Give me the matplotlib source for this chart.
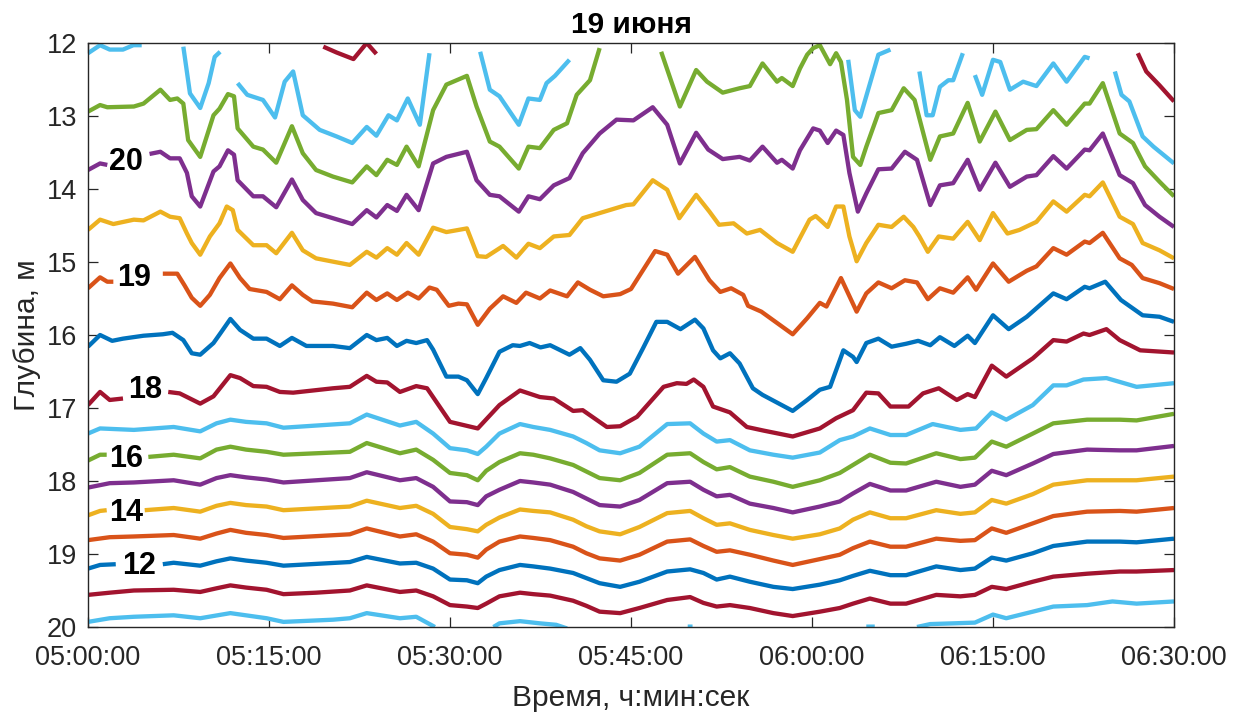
import numpy as np
import matplotlib
matplotlib.use("Agg")
import matplotlib.pyplot as plt

plt.rcParams['font.family'] = ['Liberation Sans', 'DejaVu Sans']

nan = np.nan
GAP = (nan, nan)

title = "19 июня"
xlabel = "Время, ч:мин:сек"
ylabel = "Глубина, м"
xtick_minutes = [0, 15, 30, 45, 60, 75, 90]
xtick_labels = ["05:00:00", "05:15:00", "05:30:00", "05:45:00", "06:00:00", "06:15:00", "06:30:00"]
ytick_values = [12, 13, 14, 15, 16, 17, 18, 19, 20]

# isotherm depth (m) vs minutes after 05:00
L10 = [(0, 19.93), (1.8, 19.88), (3.8, 19.86), (7.1, 19.84), (9.3, 19.88), (11.8, 19.81), (14.8, 19.88),
       (16.2, 19.93), (20.3, 19.90), (21.7, 19.88), (23.1, 19.81), (25.85, 19.88), (27.2, 19.86), (28.75, 20.0), GAP,
       (33.6, 20.0), (34.1, 19.95), (35.8, 19.92), (37.45, 19.95), (38.8, 19.97), (39.7, 20.02), GAP,
       (49.7, 19.995), (50.1, 19.995), GAP, (64.5, 19.995), (65.2, 19.995), GAP,
       (68.7, 20.0), (69.8, 19.96), (71.7, 19.95), (73.5, 19.94), (75.0, 19.83), (76.1, 19.88), (78.3, 19.79),
       (80.0, 19.72), (82.8, 19.70), (84.9, 19.65), (86.9, 19.68), (90, 19.65)]
L11 = [(0, 19.56), (1.8, 19.53), (3.8, 19.50), (7.1, 19.49), (9.3, 19.52), (10.65, 19.47), (11.8, 19.43), (13.1, 19.46),
       (14.8, 19.49), (16.2, 19.55), (18.9, 19.53), (21.7, 19.50), (23.1, 19.43), (25.85, 19.52), (27.2, 19.50),
       (28.6, 19.58), (30.0, 19.70), (31.4, 19.72), (32.3, 19.74), (33.0, 19.68), (34.1, 19.58), (35.8, 19.53),
       (36.9, 19.55), (38.3, 19.57), (40.2, 19.64), (41.3, 19.71), (42.4, 19.79), (44.1, 19.81), (45.7, 19.74),
       (48.0, 19.63), (49.9, 19.59), (51.0, 19.67), (52.1, 19.72), (53.2, 19.70), (54.85, 19.74), (56.8, 19.81),
       (58.4, 19.85), (60.65, 19.79), (62.3, 19.74), (63.4, 19.68), (64.8, 19.61), (66.5, 19.68), (67.8, 19.68),
       (70.3, 19.56), (72.3, 19.58), (73.5, 19.56), (74.9, 19.45), (76.1, 19.48), (78.3, 19.38), (80.0, 19.31),
       (82.8, 19.27), (85.5, 19.24), (86.9, 19.24), (90, 19.22)]
L12 = [(0, 19.20), (1.0, 19.15), (2.3, 19.14), GAP, (6.2, 19.14), (7.1, 19.12), (9.3, 19.16), (10.65, 19.10),
       (11.8, 19.06), (13.1, 19.09), (14.8, 19.12), (16.2, 19.16), (21.7, 19.11), (23.1, 19.04), (25.85, 19.13),
       (27.2, 19.12), (28.6, 19.20), (30.0, 19.35), (31.4, 19.36), (32.3, 19.40), (33.0, 19.31), (34.1, 19.22),
       (35.8, 19.15), (36.9, 19.17), (38.3, 19.20), (40.2, 19.26), (41.3, 19.33), (42.4, 19.40), (44.1, 19.45),
       (45.7, 19.38), (48.0, 19.24), (49.9, 19.21), (51.0, 19.26), (52.1, 19.35), (53.2, 19.31), (54.85, 19.38),
       (56.8, 19.45), (58.4, 19.48), (60.65, 19.42), (62.3, 19.36), (63.4, 19.30), (64.8, 19.23), (66.5, 19.29),
       (67.8, 19.29), (70.3, 19.17), (72.3, 19.22), (73.5, 19.20), (74.9, 19.05), (76.1, 19.09), (78.3, 18.99),
       (80.0, 18.89), (82.8, 18.83), (85.5, 18.83), (86.9, 18.84), (90, 18.79)]
L13 = [(0, 18.81), (1.8, 18.77), (3.8, 18.76), (7.1, 18.74), (9.3, 18.79), (10.65, 18.72), (11.8, 18.67), (13.1, 18.71),
       (14.8, 18.74), (16.2, 18.78), (21.7, 18.73), (23.1, 18.65), (25.85, 18.76), (27.2, 18.73), (28.6, 18.83),
       (30.0, 18.99), (31.4, 19.01), (32.3, 19.05), (33.0, 18.94), (34.1, 18.83), (35.8, 18.76), (36.9, 18.78),
       (38.3, 18.81), (40.2, 18.90), (41.3, 18.99), (42.4, 19.06), (44.1, 19.09), (45.7, 19.01), (48.0, 18.83),
       (49.9, 18.80), (51.0, 18.89), (52.1, 18.97), (53.2, 18.95), (54.85, 19.01), (56.8, 19.09), (58.4, 19.15),
       (60.65, 19.07), (62.3, 19.01), (63.4, 18.92), (64.8, 18.83), (66.5, 18.90), (67.8, 18.90), (70.3, 18.79),
       (72.3, 18.82), (73.5, 18.81), (74.9, 18.65), (76.1, 18.71), (78.3, 18.58), (80.0, 18.48), (82.8, 18.42),
       (85.5, 18.41), (86.9, 18.42), (90, 18.37)]
L14 = [(0, 18.47), (1.0, 18.41), (1.55, 18.40), GAP, (4.7, 18.40), (7.1, 18.37), (9.3, 18.42), (10.65, 18.34),
       (11.8, 18.30), (13.1, 18.33), (14.8, 18.35), (16.2, 18.40), (21.7, 18.35), (23.1, 18.27), (25.85, 18.37),
       (27.2, 18.34), (28.6, 18.45), (30.0, 18.63), (31.4, 18.66), (32.3, 18.69), (33.0, 18.60), (34.1, 18.50),
       (35.8, 18.39), (36.9, 18.41), (38.3, 18.43), (40.2, 18.53), (41.3, 18.62), (42.4, 18.69), (44.1, 18.73),
       (45.7, 18.63), (48.0, 18.44), (49.9, 18.41), (51.0, 18.51), (52.1, 18.60), (53.2, 18.58), (54.85, 18.67),
       (56.8, 18.74), (58.4, 18.79), (60.65, 18.73), (62.3, 18.65), (63.4, 18.53), (64.8, 18.43), (66.5, 18.51),
       (67.8, 18.51), (70.3, 18.40), (72.3, 18.45), (73.5, 18.43), (74.9, 18.26), (76.1, 18.31), (78.3, 18.18),
       (80.0, 18.05), (82.8, 17.99), (85.5, 17.99), (86.9, 17.99), (90, 17.94)]
L15 = [(0, 18.09), (1.8, 18.03), (3.8, 18.02), (7.1, 17.99), (9.3, 18.05), (10.65, 17.96), (11.8, 17.92), (13.1, 17.95),
       (14.8, 17.98), (16.2, 18.02), (21.7, 17.96), (23.1, 17.88), (25.85, 17.99), (27.2, 17.96), (28.6, 18.08),
       (30.0, 18.28), (31.4, 18.29), (32.3, 18.33), (33.0, 18.21), (34.1, 18.12), (35.8, 18.00), (36.9, 18.02),
       (38.3, 18.05), (40.2, 18.15), (41.3, 18.24), (42.4, 18.33), (44.1, 18.35), (45.7, 18.26), (48.0, 18.03),
       (49.9, 18.01), (51.0, 18.12), (52.1, 18.21), (53.2, 18.19), (54.85, 18.31), (56.8, 18.37), (58.4, 18.43),
       (60.65, 18.35), (62.3, 18.28), (63.4, 18.17), (64.8, 18.04), (66.5, 18.13), (67.8, 18.13), (70.3, 18.01),
       (72.3, 18.08), (73.5, 18.05), (74.9, 17.86), (76.1, 17.92), (78.3, 17.76), (80.0, 17.63), (82.8, 17.57),
       (85.5, 17.58), (86.9, 17.58), (90, 17.52)]
L16 = [(0, 17.72), (1.0, 17.64), (1.55, 17.64), GAP, (5.0, 17.67), (7.1, 17.64), (9.3, 17.69), (10.65, 17.57),
       (11.8, 17.53), (13.1, 17.57), (14.8, 17.60), (16.2, 17.64), (21.7, 17.60), (23.1, 17.48), (25.85, 17.62),
       (27.2, 17.57), (28.6, 17.71), (30.0, 17.89), (31.4, 17.92), (32.3, 17.99), (33.0, 17.86), (34.1, 17.74),
       (35.8, 17.62), (36.9, 17.64), (38.3, 17.69), (40.2, 17.78), (41.3, 17.87), (42.4, 17.96), (44.1, 17.99),
       (45.7, 17.89), (48.0, 17.64), (49.9, 17.62), (51.0, 17.74), (52.1, 17.84), (53.2, 17.81), (54.85, 17.94),
       (56.8, 18.01), (58.4, 18.08), (60.65, 17.99), (62.3, 17.89), (63.4, 17.78), (64.8, 17.64), (66.5, 17.75),
       (67.8, 17.76), (70.3, 17.62), (72.3, 17.70), (73.5, 17.68), (74.9, 17.46), (76.1, 17.53), (78.3, 17.35),
       (80.0, 17.21), (82.8, 17.16), (85.5, 17.16), (86.9, 17.17), (90, 17.08)]
L17 = [(0, 17.35), (1.0, 17.28), (3.8, 17.30), (7.1, 17.26), (9.3, 17.32), (10.65, 17.21), (11.8, 17.16), (13.1, 17.19),
       (14.8, 17.21), (16.2, 17.27), (21.7, 17.21), (23.1, 17.09), (25.85, 17.24), (27.2, 17.19), (28.6, 17.35),
       (30.0, 17.55), (31.4, 17.58), (32.3, 17.63), (33.0, 17.53), (34.1, 17.35), (35.8, 17.22), (36.9, 17.26),
       (38.3, 17.30), (40.2, 17.39), (41.3, 17.48), (42.4, 17.58), (44.1, 17.62), (45.7, 17.53), (48.0, 17.22),
       (49.9, 17.21), (51.0, 17.35), (52.1, 17.46), (53.2, 17.44), (54.85, 17.58), (56.8, 17.64), (58.4, 17.68),
       (60.65, 17.61), (62.3, 17.44), (63.4, 17.39), (64.8, 17.28), (66.5, 17.37), (67.8, 17.37), (70.0, 17.22),
       (72.3, 17.30), (73.6, 17.28), (74.9, 17.06), (76.1, 17.16), (78.3, 16.96), (80.0, 16.69), (81.1, 16.69),
       (82.5, 16.61), (84.4, 16.59), (86.9, 16.71), (90, 16.66)]
L18 = [(0, 16.96), (1.0, 16.78), (1.8, 16.89), (2.9, 16.87), GAP, (6.65, 16.78), (7.6, 16.80), (9.3, 16.94),
       (10.4, 16.84), (11.8, 16.55), (12.6, 16.59), (13.7, 16.70), (14.8, 16.71), (15.9, 16.78), (17.0, 16.79),
       (20.3, 16.73), (21.7, 16.71), (23.1, 16.56), (23.9, 16.64), (24.8, 16.65), (25.85, 16.78), (27.2, 16.70),
       (28.1, 16.73), (30.0, 17.19), (32.3, 17.28), (34.1, 16.96), (35.8, 16.76), (37.45, 16.85), (38.6, 16.87),
       (40.2, 17.04), (41.0, 17.03), (43.0, 17.26), (44.1, 17.25), (45.5, 17.12), (47.7, 16.71), (48.8, 16.66),
       (49.6, 16.67), (50.2, 16.61), (51.0, 16.71), (51.8, 16.98), (53.2, 17.06), (54.6, 17.26), (56.0, 17.31),
       (58.4, 17.39), (60.65, 17.28), (62.0, 17.14), (63.4, 17.03), (64.5, 16.79), (65.5, 16.80), (66.5, 16.98),
       (68.0, 16.98), (69.2, 16.80), (70.5, 16.73), (72.0, 16.89), (72.9, 16.81), (73.5, 16.85), (74.9, 16.42),
       (76.1, 16.57), (78.3, 16.32), (80.0, 16.07), (81.1, 16.09), (82.5, 15.98), (83.0, 16.00), (84.4, 15.92),
       (85.5, 16.07), (87.2, 16.21), (90, 16.24)]
L18_5 = [(0, 16.16), (1.0, 16.0), (2.0, 16.08), (2.9, 16.05), (4.6, 16.01), (6.2, 15.99), (7.0, 15.97), (7.9, 16.07),
         (8.6, 16.25), (9.3, 16.27), (10.4, 16.11), (11.0, 15.97), (11.8, 15.78), (12.6, 15.93), (13.7, 16.05),
         (14.8, 16.05), (15.9, 16.15), (16.9, 16.04), (18.1, 16.15), (20.3, 16.15), (21.7, 16.18), (23.1, 16.0),
         (23.9, 16.07), (24.8, 16.04), (25.6, 16.15), (26.4, 16.08), (27.2, 16.11), (28.1, 16.07), (28.6, 16.2),
         (29.7, 16.57), (30.7, 16.57), (31.4, 16.62), (32.3, 16.81), (33.0, 16.59), (34.1, 16.23), (35.2, 16.14),
         (35.8, 16.15), (36.6, 16.11), (37.5, 16.17), (38.3, 16.14), (39.9, 16.27), (40.8, 16.18), (41.6, 16.34),
         (42.7, 16.62), (43.8, 16.64), (44.9, 16.53), (46.0, 16.18), (47.1, 15.82), (48.0, 15.82), (49.1, 15.92),
         (50.3, 15.79), (51.0, 15.91), (51.8, 16.21), (52.4, 16.32), (53.2, 16.25), (54.0, 16.39), (55.1, 16.73),
         (55.9, 16.82), (58.4, 17.04), (59.6, 16.89), (60.65, 16.75), (61.5, 16.71), (62.6, 16.21), (63.4, 16.30),
         (63.7, 16.37), (64.5, 16.11), (65.5, 16.05), (66.6, 16.16), (67.8, 16.12), (68.8, 16.08), (69.8, 16.14),
         (70.6, 16.03), (71.8, 16.15), (72.9, 16.01), (73.5, 16.11), (75.0, 15.73), (76.3, 15.92), (77.8, 15.75),
         (80.0, 15.43), (81.1, 15.51), (82.6, 15.34), (83.0, 15.36), (84.3, 15.27), (85.6, 15.52), (87.4, 15.73),
         (88.8, 15.75), (90, 15.82)]
L19 = [(0, 15.36), (1.0, 15.21), (1.6, 15.27), (2.1, 15.27), GAP, (6.2, 15.16), (7.4, 15.16), (8.0, 15.32),
       (8.6, 15.49), (9.3, 15.60), (10.1, 15.45), (10.9, 15.22), (11.8, 15.02), (12.6, 15.22), (13.4, 15.37),
       (14.8, 15.41), (15.9, 15.51), (16.9, 15.32), (17.8, 15.45), (18.6, 15.54), (20.3, 15.57), (21.9, 15.62),
       (23.1, 15.42), (23.9, 15.52), (24.8, 15.43), (25.6, 15.52), (26.5, 15.42), (27.4, 15.50), (28.3, 15.35),
       (28.9, 15.38), (29.9, 15.60), (30.7, 15.57), (31.4, 15.58), (32.3, 15.86), (33.3, 15.64), (34.4, 15.47),
       (35.5, 15.56), (36.3, 15.42), (37.45, 15.50), (38.3, 15.39), (39.7, 15.47), (40.6, 15.28), (41.6, 15.38),
       (42.7, 15.47), (44.1, 15.44), (45.0, 15.37), (46.0, 15.11), (47.0, 14.85), (48.0, 14.90), (48.9, 15.16),
       (50.3, 14.93), (51.5, 15.25), (52.4, 15.41), (53.3, 15.36), (54.3, 15.45), (54.7, 15.60), (55.8, 15.68),
       (58.4, 15.99), (59.6, 15.77), (60.65, 15.56), (61.2, 15.61), (62.4, 15.22), (63.7, 15.68), (64.5, 15.43),
       (65.5, 15.28), (66.6, 15.36), (67.7, 15.25), (68.7, 15.28), (69.6, 15.51), (70.6, 15.36), (71.7, 15.42),
       (72.9, 15.21), (73.6, 15.38), (75.0, 15.02), (76.3, 15.27), (77.8, 15.12), (78.6, 15.06), (80.0, 14.81),
       (81.1, 14.90), (82.6, 14.72), (83.0, 14.74), (84.1, 14.60), (85.5, 14.95), (86.5, 15.04), (87.4, 15.22),
       (88.8, 15.29), (90, 15.37)]
L19_5 = [(0, 14.56), (1.0, 14.42), (2.1, 14.48), (3.8, 14.42), (4.6, 14.43), (6.0, 14.31), (6.8, 14.38), (7.6, 14.40),
         (8.2, 14.61), (8.6, 14.74), (9.3, 14.90), (10.1, 14.65), (10.9, 14.47), (11.5, 14.24), (12.0, 14.29),
         (12.4, 14.56), (13.7, 14.77), (14.8, 14.77), (15.6, 14.88), (16.9, 14.60), (17.8, 14.84), (18.9, 14.95),
         (21.7, 15.04), (23.1, 14.86), (23.9, 14.94), (24.8, 14.81), (25.6, 14.90), (26.4, 14.74), (27.4, 14.90),
         (28.6, 14.53), (29.7, 14.59), (31.4, 14.54), (32.3, 14.92), (33.0, 14.93), (34.4, 14.78), (35.5, 14.94),
         (36.5, 14.75), (37.45, 14.81), (38.6, 14.65), (39.9, 14.63), (41.0, 14.40), (42.4, 14.33), (44.6, 14.22),
         (45.2, 14.21), (46.8, 13.88), (48.0, 14.01), (49.0, 14.40), (50.4, 14.08), (51.5, 14.31), (52.3, 14.49),
         (53.5, 14.47), (54.6, 14.61), (55.7, 14.56), (57.1, 14.74), (58.4, 14.86), (59.8, 14.42), (60.3, 14.37),
         (60.65, 14.42), (61.3, 14.52), (62.0, 14.24), (62.6, 14.24), (63.1, 14.65), (63.7, 14.99), (64.5, 14.74),
         (65.5, 14.49), (66.6, 14.52), (67.6, 14.38), (68.4, 14.52), (68.9, 14.65), (69.6, 14.86), (70.5, 14.65),
         (71.7, 14.68), (72.9, 14.45), (73.9, 14.70), (75.0, 14.33), (76.2, 14.61), (77.2, 14.56), (78.6, 14.45),
         (80.0, 14.17), (81.1, 14.31), (82.6, 14.08), (83.0, 14.10), (84.1, 13.91), (85.5, 14.38), (86.6, 14.48),
         (87.4, 14.74), (88.8, 14.84), (90, 14.95)]
L20 = [(0, 13.74), (1.0, 13.65), (1.6, 13.67), GAP, (5.1, 13.52), (6.0, 13.49), (6.8, 13.58), (7.6, 13.58),
       (8.2, 13.78), (8.6, 14.10), (9.3, 14.24), (10.4, 13.76), (10.9, 13.69), (11.6, 13.47), (12.1, 13.53),
       (12.4, 13.88), (13.7, 14.10), (14.5, 14.10), (15.6, 14.25), (16.9, 13.87), (17.8, 14.15), (18.9, 14.33),
       (20.3, 14.40), (21.9, 14.48), (23.1, 14.29), (23.9, 14.39), (24.8, 14.22), (25.6, 14.30), (26.4, 14.08),
       (27.4, 14.29), (28.6, 13.65), (29.7, 13.56), (31.4, 13.49), (32.2, 13.88), (33.3, 14.08), (34.1, 14.10),
       (35.7, 14.31), (36.5, 14.10), (37.45, 14.14), (38.6, 13.95), (39.9, 13.85), (41.0, 13.51), (42.4, 13.24),
       (43.8, 13.05), (45.2, 13.06), (46.8, 12.88), (48.0, 13.12), (49.05, 13.65), (50.4, 13.23), (51.4, 13.46),
       (52.6, 13.59), (54.0, 13.56), (54.85, 13.61), (55.9, 13.42), (57.1, 13.64), (57.5, 13.60), (58.4, 13.72),
       (59.0, 13.47), (60.1, 13.17), (60.65, 13.20), (61.3, 13.37), (62.0, 13.20), (62.6, 13.26), (63.1, 13.78),
       (63.8, 14.31), (64.5, 14.06), (65.5, 13.73), (66.6, 13.72), (67.7, 13.49), (68.7, 13.60), (69.8, 14.22),
       (70.6, 13.95), (71.7, 13.92), (72.9, 13.60), (73.9, 14.01), (75.2, 13.64), (76.4, 13.97), (77.8, 13.83),
       (78.6, 13.81), (80.0, 13.55), (81.1, 13.72), (82.6, 13.46), (83.0, 13.47), (84.1, 13.24), (85.5, 13.81),
       (86.6, 13.92), (87.6, 14.22), (88.8, 14.38), (90, 14.52)]
L20_5 = [(0, 12.94), (1.0, 12.85), (1.6, 12.88), (3.8, 12.87), (4.6, 12.83), (6.0, 12.64), (6.8, 12.78), (7.4, 12.76),
         (7.9, 12.83), (8.3, 13.33), (9.3, 13.56), (10.4, 12.99), (10.9, 12.90), (11.6, 12.70), (12.1, 12.73),
         (12.4, 13.17), (13.7, 13.42), (14.5, 13.46), (15.6, 13.64), (16.9, 13.14), (17.8, 13.51), (18.9, 13.74),
         (20.3, 13.83), (21.9, 13.91), (23.1, 13.69), (23.9, 13.81), (24.8, 13.60), (25.6, 13.67), (26.4, 13.42),
         (27.4, 13.69), (28.6, 12.92), (29.7, 12.57), (31.4, 12.45), (32.2, 12.87), (33.3, 13.35), (34.1, 13.42),
         (35.7, 13.72), (36.5, 13.42), (37.45, 13.44), (38.6, 13.19), (39.7, 13.10), (40.5, 12.71), (41.6, 12.51),
         (42.4, 12.07), GAP, (47.5, 12.12), (49.05, 12.87), (50.4, 12.37), (51.3, 12.53), (52.6, 12.68), (54.0, 12.62),
         (54.85, 12.59), (55.9, 12.28), (57.1, 12.53), (57.5, 12.48), (58.4, 12.59), (59.0, 12.35), (59.6, 12.16),
         (60.1, 12.07), (60.65, 12.03), (61.5, 12.29), (62.0, 12.14), (62.4, 12.26), (62.9, 12.78), (63.4, 13.56),
         (64.0, 13.67), (64.5, 13.42), (65.5, 12.96), (66.6, 12.92), (67.6, 12.62), (68.5, 12.78), (69.8, 13.60),
         (70.6, 13.28), (71.7, 13.24), (72.9, 12.82), (73.9, 13.35), (75.2, 12.94), (76.4, 13.33), (77.8, 13.19),
         (78.6, 13.18), (80.0, 12.92), (81.1, 13.12), (82.6, 12.83), (83.0, 12.83), (84.1, 12.55), (85.5, 13.24),
         (86.6, 13.37), (87.6, 13.69), (88.8, 13.90), (90, 14.10)]
L21 = [(0, 12.14), (1.0, 12.03), (1.8, 12.09), (2.9, 12.09), (3.76, 12.03), (4.45, 12.03), GAP,
       (7.9, 12.05), (8.45, 12.69), (9.3, 12.89), (10.0, 12.55), (10.5, 12.19), (10.95, 12.12), GAP,
       (12.4, 12.55), (13.2, 12.71), (14.5, 12.78), (15.5, 13.02), (16.3, 12.53), (17.0, 12.39), (17.8, 12.99),
       (19.2, 13.19), (20.6, 13.28), (21.9, 13.37), (23.1, 13.15), (23.9, 13.27), (24.9, 12.99), (25.6, 13.06),
       (26.5, 12.76), (27.5, 13.12), (28.3, 12.14), GAP,
       (32.5, 12.12), (33.3, 12.64), (34.1, 12.73), (35.7, 13.12), (36.5, 12.76), (37.45, 12.78), (38.0, 12.55),
       (38.7, 12.45), (39.9, 12.23), GAP,
       (63.0, 12.23), (63.55, 12.92), (64.0, 13.01), (65.5, 12.16), (66.5, 12.09), GAP,
       (68.9, 12.39), (69.5, 12.99), (70.0, 12.99), (70.6, 12.60), (71.3, 12.51), (71.7, 12.51), (72.5, 12.14), GAP,
       (73.5, 12.44), (74.1, 12.71), (75.0, 12.23), (75.6, 12.26), (76.4, 12.64), (77.5, 12.53), (78.6, 12.59),
       (80.0, 12.28), (81.1, 12.53), (82.6, 12.19), (83.0, 12.21), GAP,
       (85.1, 12.39), (85.65, 12.71), (86.3, 12.80), (87.4, 13.28), (88.3, 13.42), (90, 13.65)]
L21_5 = [(19.5, 12.05), (20.6, 12.13), (22.0, 12.22), (23.1, 12.00), (23.9, 12.15), GAP,
         (87.0, 12.14), (87.7, 12.39), (88.8, 12.58), (90, 12.80)]

levels = [10, 11, 12, 13, 14, 15, 16, 17, 18, 18.5, 19, 19.5, 20, 20.5, 21, 21.5]
isolines = [L10, L11, L12, L13, L14, L15, L16, L17, L18, L18_5, L19, L19_5, L20, L20_5, L21, L21_5]

# MATLAB default color order
color_order = ['#0072BD', '#D95319', '#EDB120', '#7E2F8E', '#77AC30', '#4DBEEE', '#A2142F']

label_text = ["20", "19", "18", "16", "14", "12"]
label_time = [3.15, 3.8, 4.7, 3.15, 3.15, 4.2]
label_depth = [13.63, 15.22, 16.75, 17.70, 18.44, 19.16]

fig = plt.figure(figsize=(12.58, 7.13), dpi=100)
ax = fig.add_axes([0.06995, 0.12062, 0.86328, 0.81907])

for i, (lev, pts) in enumerate(zip(levels, isolines)):
    t = [p[0] for p in pts]
    d = [p[1] for p in pts]
    ax.plot(t, d, color=color_order[(i + 5) % 7], lw=3.1, solid_joinstyle='round', solid_capstyle='butt')

for txt, t, d in zip(label_text, label_time, label_depth):
    ax.text(t, d, txt, ha='center', va='center', fontsize=22, fontweight='bold', color='black')

ax.set_xlim(0, 90)
ax.set_ylim(20, 12)
ax.set_xticks(xtick_minutes)
ax.set_xticklabels(xtick_labels)
ax.set_yticks(ytick_values)

ax.tick_params(direction='in', top=True, right=True, length=7, width=0.9,
               color='#262626', labelcolor='#262626', labelsize=19.5)
ax.tick_params(axis='x', pad=13)
ax.tick_params(axis='y', pad=8)
for s in ax.spines.values():
    s.set_color('#262626')
    s.set_linewidth(1.0)

ax.set_xlabel(xlabel, fontsize=21.5, color='#262626', labelpad=9)
ax.set_ylabel(ylabel, fontsize=21.5, color='#262626', labelpad=4)
ax.set_title(title, fontsize=21.5, fontweight='bold', color='black', pad=7)

fig.savefig("out.png", dpi=100)
